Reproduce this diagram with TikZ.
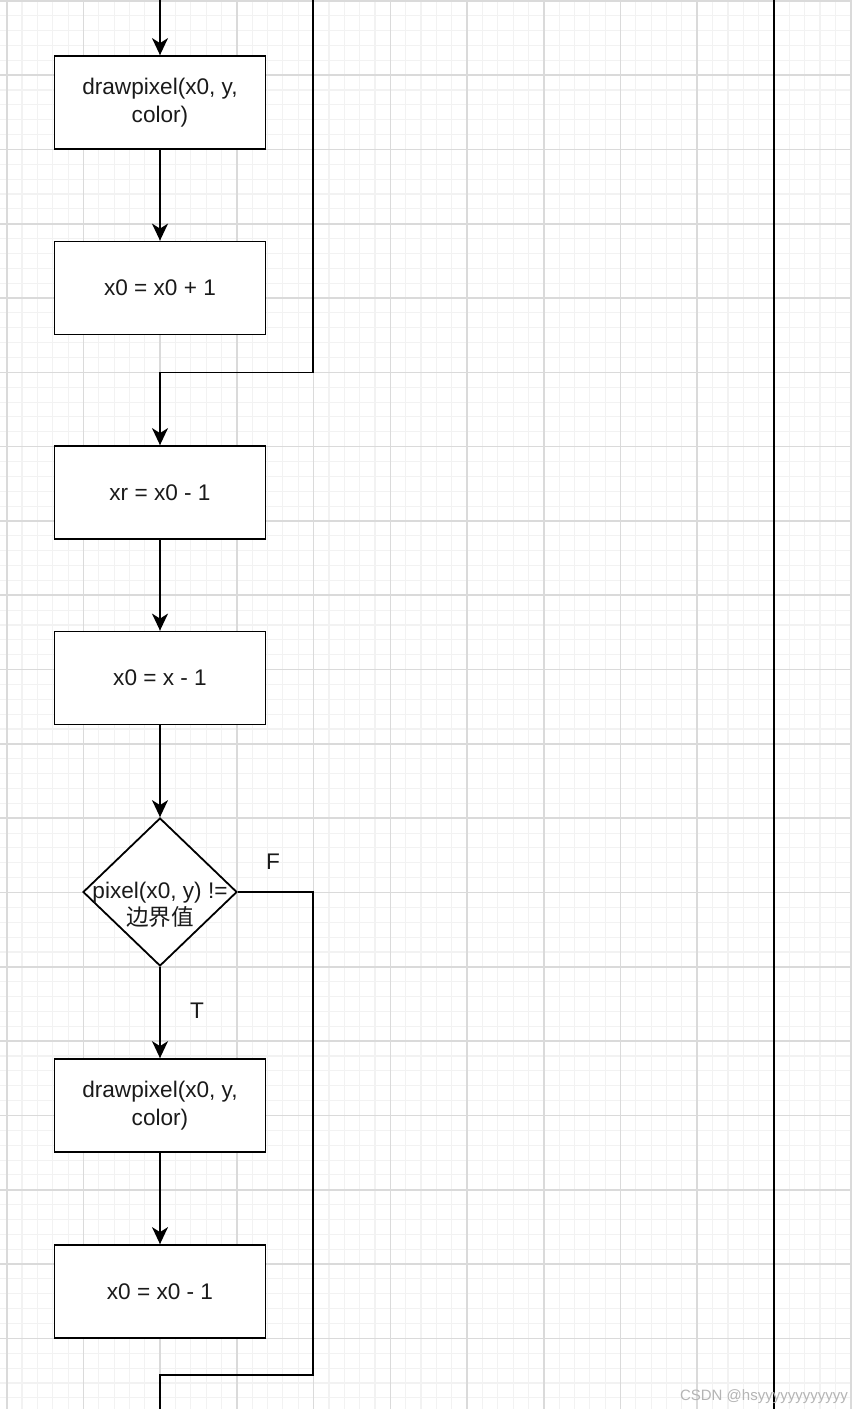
\documentclass[tikz,border=0pt]{standalone}
\usepackage{fontspec}
\setmainfont{Liberation Sans}
\newfontfamily\cjk{Noto Sans CJK SC}
\usetikzlibrary{arrows.meta,shapes.geometric}
\definecolor{txt}{HTML}{1A1A1A}
\definecolor{gmajor}{HTML}{DADADA}
\definecolor{gminor}{HTML}{F2F2F2}
\definecolor{wm}{HTML}{B4B4B4}
\begin{document}
\begin{tikzpicture}[x=1pt,y=-1pt,
  box/.style={draw=black, line width=1.8pt, fill=white, minimum width=211pt, minimum height=93pt, inner sep=0pt, font=\fontsize{22.6}{27.5}\selectfont, text=txt, align=center},
  decision/.style={diamond, draw=black, line width=1.8pt, fill=white, minimum width=154pt, minimum height=148pt, inner sep=0pt},
  conn/.style={line width=1.8pt, draw=black},
  arr/.style={conn, -{Stealth[length=17pt,width=16pt,inset=5pt]}},
  lbl/.style={font=\fontsize{22.6}{27.5}\selectfont, text=txt, inner sep=0pt, align=center},
  minorline/.style={draw=gminor, line width=1.1pt},
  majorline/.style={draw=gmajor, line width=1.6pt}]
\useasboundingbox (0,0) rectangle (852,1409);
\begin{scope}
\clip (0,0) rectangle (852,1409);
\fill[white] (0,0) rectangle (852,1409);
\foreach \i in {-1,...,55} {\draw[minorline] ({6.7+15.346*\i},0) -- ({6.7+15.346*\i},1409);}
\foreach \j in {0,...,94} {\draw[minorline] (0,{0.8+14.862*\j}) -- (852,{0.8+14.862*\j});}
\foreach \i in {0,...,11} {\draw[majorline] ({6.7+76.73*\i},0) -- ({6.7+76.73*\i},1409);}
\foreach \j in {0,...,18} {\draw[majorline] (0,{0.8+74.31*\j}) -- (852,{0.8+74.31*\j});}
\end{scope}

% nodes
\node[box] (b1) at (160,102.5) {drawpixel(x0, y,\\color)};
\node[box] (b2) at (160,288) {x0 = x0 + 1};
\node[box] (b3) at (160,492.5) {xr = x0 - 1};
\node[box] (b4) at (160,678) {x0 = x - 1};
\node[decision] (d) at (160,892) {};
\node[lbl] (dt) at (160,905) {pixel(x0, y) !=\\{\cjk 边界值}};
\node[box] (b5) at (160,1105.5) {drawpixel(x0, y,\\color)};
\node[box] (b6) at (160,1291.5) {x0 = x0 - 1};
\node[lbl] (lf) at (273,862) {F};
\node[lbl] (lt) at (197,1011) {T};

\coordinate (top) at (160,0);
\coordinate (rtop) at (313.3,0);
\coordinate (rbend) at (313.3,372.5);
\coordinate (lbend) at (160,372.5);
\coordinate (fr) at (313.3,892);
\coordinate (fbot) at (313.3,1375);
\coordinate (fl) at (160,1375);
\coordinate (bot) at (160,1409);
\coordinate (vt) at (774,0);
\coordinate (vb) at (774,1409);

% connectors
\draw[arr] (top) -- (b1.north);
\draw[arr] (b1.south) -- (b2.north);
\draw[arr] (rtop) -- (rbend) -- (lbend) -- (b3.north);
\draw[arr] (b3.south) -- (b4.north);
\draw[arr] (b4.south) -- (d.north);
\draw[arr] (d.south) -- (b5.north);
\draw[arr] (b5.south) -- (b6.north);
\draw[conn] (d.east) -- (fr) -- (fbot) -- (fl) -- (bot);
\draw[conn] (vt) -- (vb);

\node[anchor=base east, font=\fontsize{15}{15}\selectfont, text=wm, inner sep=0pt] (wmk) at (848,1400) {CSDN @hsyyyyyyyyyyyy};
\end{tikzpicture}
\end{document}
